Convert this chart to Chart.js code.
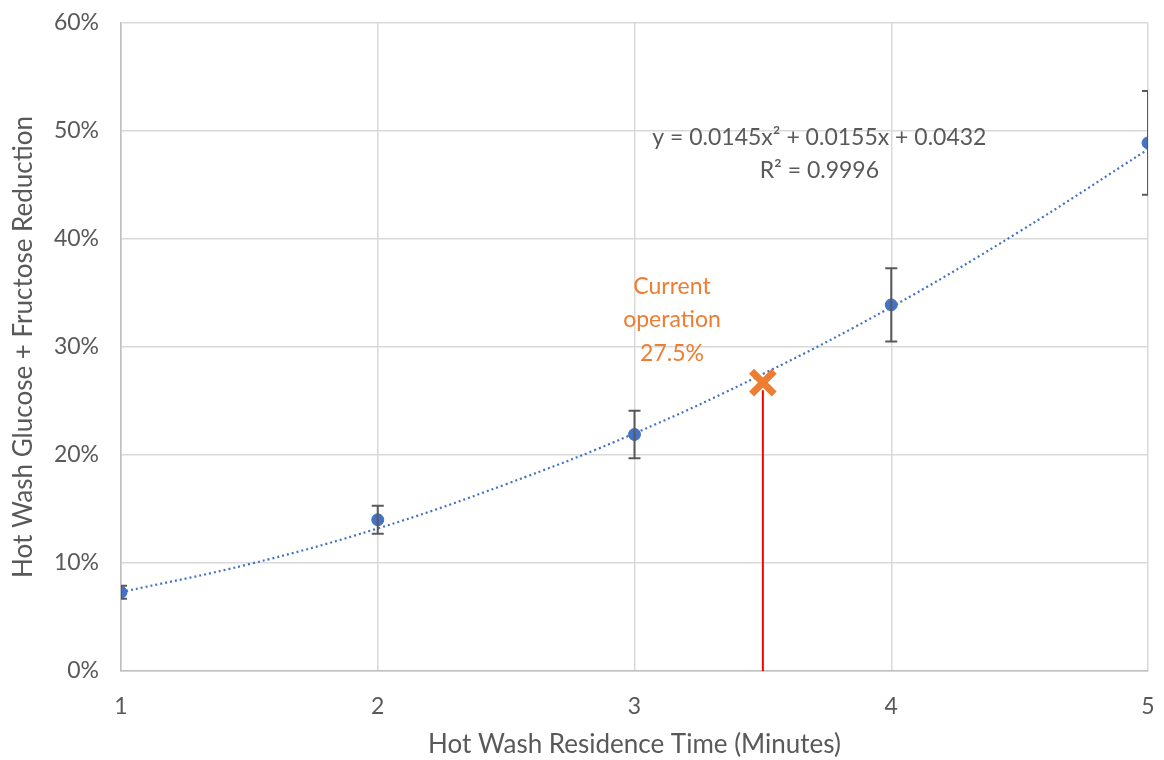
<!DOCTYPE html>
<html>
<head>
<meta charset="utf-8">
<script src="https://cdn.jsdelivr.net/npm/chart.js@4.4.1/dist/chart.umd.min.js"></script>
<style>
    html, body { margin: 0; padding: 0; background: #fff; }
    #wrap { width: 1164px; height: 760px; }
</style>
</head>
<body>
<div id="wrap"><canvas id="chart"></canvas></div>
<script>
// данные
const times = [1, 2, 3, 4, 5];
const reduction = [7.3, 14.0, 21.9, 33.9, 48.9];
const errorBars = [0.6, 1.3, 2.2, 3.4, 4.8];

// линия тренда (точки)
const trendTimes = [1, 1.5, 2, 2.5, 3, 3.5, 4, 4.5, 5];
const trendValues = [7.3, 9.9, 13.2, 17.3, 22.0, 27.5, 33.7, 40.7, 48.3];

// текущий режим работы
const currentTime = [3.5];
const currentValue = [26.7];
const currentLine = [0, 26.0];

const equationLines = ['y = 0.0145x\u00B2 + 0.0155x + 0.0432', 'R\u00B2 = 0.9996'];
const currentLabel = ['Current', 'operation', '27.5%'];

const FONT = 'Lato, "Open Sans", sans-serif';
const GRAY = '#595959';
const ORANGE = '#ED7D31';
const BLUE = '#4472C4';

// рисуем усы погрешностей и подписи через шкалы графика
const extrasPlugin = {
    id: 'extras',
    afterDatasetsDraw(chart) {
        const ctx = chart.ctx;
        const xs = chart.scales.x;
        const ys = chart.scales.y;
        const area = chart.chartArea;
        ctx.save();
        ctx.beginPath();
        ctx.rect(area.left, area.top - 40, area.right - area.left, area.bottom - area.top + 40);
        ctx.clip();
        ctx.strokeStyle = GRAY;
        ctx.lineWidth = 2;
        times.forEach((t, i) => {
            const px = xs.getPixelForValue(t);
            const top = ys.getPixelForValue(reduction[i] + errorBars[i]);
            const bottom = ys.getPixelForValue(reduction[i] - errorBars[i]);
            ctx.beginPath();
            ctx.moveTo(px, top);
            ctx.lineTo(px, bottom);
            ctx.moveTo(px - 6, top);
            ctx.lineTo(px + 6, top);
            ctx.moveTo(px - 6, bottom);
            ctx.lineTo(px + 6, bottom);
            ctx.stroke();
        });
        ctx.restore();
    },
    afterDraw(chart) {
        const ctx = chart.ctx;
        const xs = chart.scales.x;
        const ys = chart.scales.y;
        ctx.save();
        ctx.textAlign = 'center';
        ctx.textBaseline = 'middle';
        ctx.font = '23px ' + FONT;
        ctx.fillStyle = GRAY;
        ctx.fillText(equationLines[0], xs.getPixelForValue(3.72), ys.getPixelForValue(49.4));
        ctx.fillText(equationLines[1], xs.getPixelForValue(3.72), ys.getPixelForValue(46.3));
        ctx.fillStyle = ORANGE;
        const labelY = [35.6, 32.5, 29.4];
        currentLabel.forEach((line, i) => {
            ctx.fillText(line, xs.getPixelForValue(3.146), ys.getPixelForValue(labelY[i]));
        });
        ctx.restore();
    }
};

new Chart(document.getElementById('chart'), {
    type: 'scatter',
    data: {
        datasets: [
            {
                label: 'trend',
                data: trendTimes.map((t, i) => ({ x: t, y: trendValues[i] })),
                showLine: true,
                borderColor: BLUE,
                borderWidth: 2.2,
                borderDash: [2, 3],
                tension: 0.4,
                pointRadius: 0,
                order: 3
            },
            {
                label: 'current line',
                data: currentLine.map(v => ({ x: currentTime[0], y: v })),
                showLine: true,
                borderColor: '#FF0000',
                borderWidth: 2,
                pointRadius: 0,
                order: 2
            },
            {
                label: 'current',
                data: currentTime.map((t, i) => ({ x: t, y: currentValue[i] })),
                pointStyle: 'crossRot',
                pointRadius: 16,
                borderColor: ORANGE,
                borderWidth: 7,
                order: 1
            },
            {
                label: 'measured',
                data: times.map((t, i) => ({ x: t, y: reduction[i] })),
                pointRadius: 6,
                backgroundColor: BLUE,
                borderColor: BLUE,
                order: 0
            }
        ]
    },
    options: {
        responsive: true,
        maintainAspectRatio: false,
        animation: false,
        layout: { autoPadding: false, padding: { top: 23, right: 16, left: 0, bottom: 0 } },
        plugins: {
            legend: { display: false },
            tooltip: { enabled: false }
        },
        scales: {
            x: {
                type: 'linear',
                min: 1,
                max: 5,
                ticks: {
                    stepSize: 1,
                    color: GRAY,
                    padding: 22,
                    font: { family: FONT, size: 23 }
                },
                grid: { color: '#D9D9D9', lineWidth: 1.5, drawTicks: false },
                border: { color: '#BFBFBF', width: 1.5 },
                title: {
                    display: true,
                    text: 'Hot Wash Residence Time (Minutes)',
                    color: GRAY,
                    font: { family: FONT, size: 26 },
                    padding: { top: 4, bottom: 0 }
                },
                afterFit(scale) {
                    scale.height = 89;
                    scale.paddingLeft = 0;
                    scale.paddingRight = 0;
                }
            },
            y: {
                min: 0,
                max: 60,
                ticks: {
                    stepSize: 10,
                    color: GRAY,
                    padding: 22,
                    font: { family: FONT, size: 23 },
                    callback: v => v + '%'
                },
                grid: { color: '#D9D9D9', lineWidth: 1.5, drawTicks: false },
                border: { color: '#BFBFBF', width: 1.5 },
                title: {
                    display: true,
                    text: 'Hot Wash Glucose + Fructose Reduction',
                    color: GRAY,
                    font: { family: FONT, size: 26 },
                    padding: { top: 8, bottom: 4 }
                },
                afterFit(scale) {
                    scale.width = 121;
                    scale.paddingTop = 0;
                    scale.paddingBottom = 0;
                }
            }
        }
    },
    plugins: [extrasPlugin]
});
</script>
</body>
</html>
